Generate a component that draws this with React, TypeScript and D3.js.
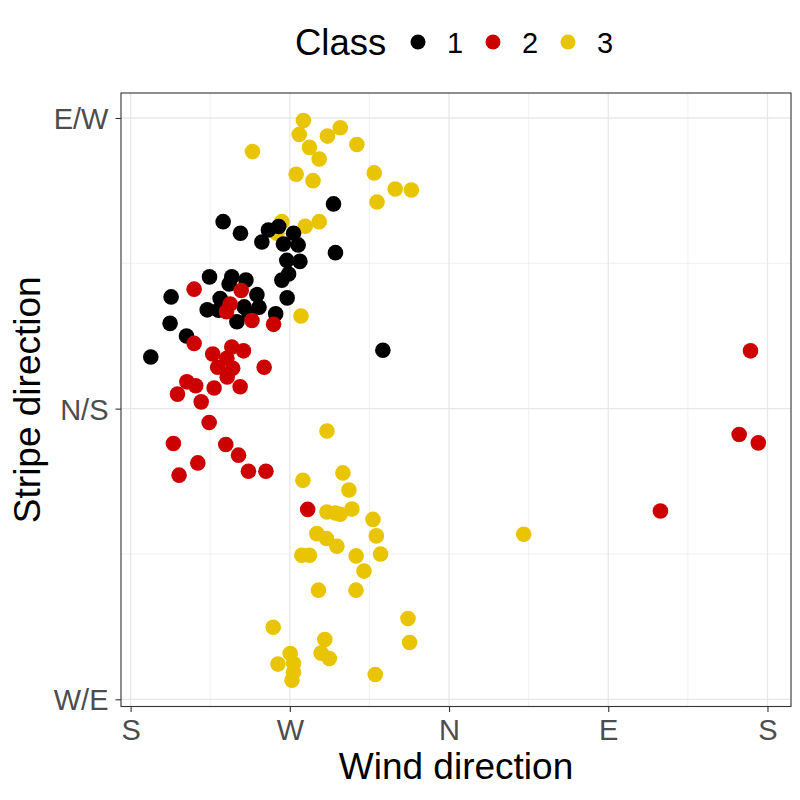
import React, { useEffect, useRef } from 'react';
import * as d3 from 'd3';

// [wind direction (deg, S=0 → W=90 → N=180 → E=270 → S=360), stripe direction (deg, W/E=-90, N/S=0, E/W=90)]
const class1Points: [number, number][] = [
  [114.7, 63.4], [52.3, 57.9], [62.1, 54.3], [77.9, 55.3], [83.7, 56.4], [92.1, 54.3],
  [74.2, 51.6], [86.4, 51.0], [94.7, 50.7], [115.8, 48.3], [88.3, 45.9], [95.7, 45.6],
  [89.3, 41.7], [85.5, 39.8], [44.6, 40.8], [57.2, 40.8], [65.2, 39.8], [55.7, 38.6],
  [22.9, 34.6], [50.6, 34.1], [71.4, 35.3], [88.5, 34.3], [43.3, 30.6], [64.2, 31.5],
  [72.6, 31.4], [49.7, 30.5], [60.1, 26.9], [67.0, 29.1], [82.0, 29.4], [22.3, 26.4],
  [31.6, 22.5], [11.4, 16.0], [142.6, 18.1],
];

const class2Points: [number, number][] = [
  [35.9, 37.0], [62.5, 36.6], [56.3, 32.4], [54.2, 30.0], [68.6, 27.3], [80.8, 26.1],
  [35.9, 20.2], [46.4, 16.9], [57.2, 19.1], [63.8, 17.9], [54.4, 15.6], [49.2, 12.8],
  [57.7, 12.5], [54.6, 9.8], [75.5, 12.8], [31.8, 8.3], [36.8, 7.1], [26.5, 4.5],
  [47.2, 6.4], [61.9, 6.8], [39.9, 2.1], [44.4, -4.3], [24.2, -10.8], [53.8, -11.1],
  [38.0, -16.8], [27.4, -20.6], [61.0, -14.4], [66.6, -19.4], [76.5, -19.4], [100.1, -31.2],
  [350.4, 17.9], [344.0, -8.0], [354.8, -10.6], [299.5, -31.7],
];

const class3Points: [number, number][] = [
  [97.7, 89.2], [95.3, 84.9], [118.5, 87.0], [111.3, 84.4], [101.1, 80.9], [106.6, 77.3],
  [127.9, 81.8], [68.9, 79.6], [93.6, 72.6], [103.1, 70.6], [137.7, 73.0], [149.6, 68.0],
  [158.7, 67.7], [139.3, 64.0], [106.6, 57.9], [98.7, 56.5], [85.5, 57.9], [82.7, 54.3],
  [96.3, 28.7], [111.0, -6.9], [120.0, -19.9], [97.4, -22.2], [123.4, -25.2], [111.0, -32.0],
  [115.7, -32.3], [118.5, -32.7], [125.1, -31.1], [137.0, -34.3], [105.3, -38.7], [110.7, -40.2],
  [116.6, -42.6], [138.9, -39.4], [96.8, -45.4], [101.1, -45.4], [127.5, -45.6], [141.3, -45.0],
  [131.9, -50.3], [106.2, -56.2], [127.4, -56.2], [156.8, -65.0], [157.7, -72.4], [80.6, -67.7],
  [109.8, -71.5], [107.7, -75.7], [112.3, -77.4], [83.3, -79.1], [90.2, -75.8], [92.1, -78.9],
  [92.1, -81.6], [91.2, -84.1], [138.3, -82.3], [222.2, -38.9],
];

const classes = ['1', '2', '3'];
const classColors = ['#000000', '#CC0000', '#E9C400'];

const xTicks = [0, 90, 180, 270, 360];
const xTickLabels = ['S', 'W', 'N', 'E', 'S'];
const xMinor = [45, 135, 225, 315];
const yTicks = [-90, 0, 90];
const yTickLabels = ['W/E', 'N/S', 'E/W'];
const yMinor = [-45, 45];

const FONT = '"Liberation Sans", Arial, sans-serif';

const App: React.FC = () => {
  const ref = useRef<SVGSVGElement | null>(null);

  useEffect(() => {
    const panel = { left: 121, right: 791, top: 93, bottom: 706.5 };

    const x = d3.scaleLinear().domain([-5.43, 373.3]).range([panel.left, panel.right]);
    const y = d3.scaleLinear().domain([-92.23, 97.74]).range([panel.bottom, panel.top]);

    const svg = d3.select(ref.current);
    svg.selectAll('*').remove();

    // panel background + grid
    svg.append('rect')
      .attr('x', panel.left).attr('y', panel.top)
      .attr('width', panel.right - panel.left).attr('height', panel.bottom - panel.top)
      .attr('fill', 'white');

    const grid = svg.append('g');
    xMinor.forEach(v => {
      grid.append('line')
        .attr('x1', x(v)).attr('x2', x(v)).attr('y1', panel.top).attr('y2', panel.bottom)
        .attr('stroke', '#EBEBEB').attr('stroke-width', 0.7);
    });
    yMinor.forEach(v => {
      grid.append('line')
        .attr('x1', panel.left).attr('x2', panel.right).attr('y1', y(v)).attr('y2', y(v))
        .attr('stroke', '#EBEBEB').attr('stroke-width', 0.7);
    });
    xTicks.forEach(v => {
      grid.append('line')
        .attr('x1', x(v)).attr('x2', x(v)).attr('y1', panel.top).attr('y2', panel.bottom)
        .attr('stroke', '#E8E8E8').attr('stroke-width', 1.3);
    });
    yTicks.forEach(v => {
      grid.append('line')
        .attr('x1', panel.left).attr('x2', panel.right).attr('y1', y(v)).attr('y2', y(v))
        .attr('stroke', '#E8E8E8').attr('stroke-width', 1.3);
    });

    // points: yellow first, then black, red on top
    const layers: [[number, number][], string][] = [
      [class3Points, classColors[2]],
      [class1Points, classColors[0]],
      [class2Points, classColors[1]],
    ];
    layers.forEach(([pts, col]) => {
      svg.append('g')
        .selectAll('circle')
        .data(pts)
        .join('circle')
        .attr('cx', d => x(d[0]))
        .attr('cy', d => y(d[1]))
        .attr('r', 7.8)
        .attr('fill', col);
    });

    // panel border
    svg.append('rect')
      .attr('x', panel.left).attr('y', panel.top)
      .attr('width', panel.right - panel.left).attr('height', panel.bottom - panel.top)
      .attr('fill', 'none').attr('stroke', '#333333').attr('stroke-width', 1.1);

    // x axis
    const xAxis = svg.append('g')
      .attr('transform', `translate(0,${panel.bottom})`)
      .call(d3.axisBottom(x).tickValues(xTicks).tickSize(5.5).tickPadding(7)
        .tickFormat((_, i) => xTickLabels[i]));
    xAxis.select('.domain').remove();
    xAxis.selectAll('line').attr('stroke', '#333333').attr('stroke-width', 1.1);
    xAxis.selectAll('text')
      .attr('fill', '#4D4D4D').attr('font-size', 29).attr('font-family', FONT)
      .attr('dy', '0.72em');

    // y axis
    const yAxis = svg.append('g')
      .attr('transform', `translate(${panel.left},0)`)
      .call(d3.axisLeft(y).tickValues(yTicks).tickSize(5.5).tickPadding(7)
        .tickFormat((_, i) => yTickLabels[i]));
    yAxis.select('.domain').remove();
    yAxis.selectAll('line').attr('stroke', '#333333').attr('stroke-width', 1.1);
    yAxis.selectAll('text')
      .attr('fill', '#4D4D4D').attr('font-size', 29).attr('font-family', FONT)
      .attr('dy', '0.36em');

    // axis titles
    svg.append('text')
      .attr('x', (panel.left + panel.right) / 2).attr('y', 779)
      .attr('text-anchor', 'middle')
      .attr('font-size', 37).attr('font-family', FONT).attr('fill', 'black')
      .text('Wind direction');

    svg.append('text')
      .attr('transform', `translate(40,${(panel.top + panel.bottom) / 2}) rotate(-90)`)
      .attr('text-anchor', 'middle')
      .attr('font-size', 37).attr('font-family', FONT).attr('fill', 'black')
      .text('Stripe direction');

    // legend
    const legend = svg.append('g');
    legend.append('text')
      .attr('x', 295).attr('y', 55)
      .attr('font-size', 36.5).attr('font-family', FONT).attr('fill', 'black')
      .text('Class');
    classes.forEach((c, i) => {
      legend.append('circle')
        .attr('cx', 418 + i * 75).attr('cy', 42).attr('r', 7.5)
        .attr('fill', classColors[i]);
      legend.append('text')
        .attr('x', 447 + i * 75).attr('y', 52.5)
        .attr('font-size', 29).attr('font-family', FONT).attr('fill', 'black')
        .text(c);
    });
  }, []);

  return (
    <svg
      ref={ref}
      width={800}
      height={800}
      style={{ position: 'absolute', left: 0, top: 0, background: 'white' }}
    />
  );
};

export default App;
